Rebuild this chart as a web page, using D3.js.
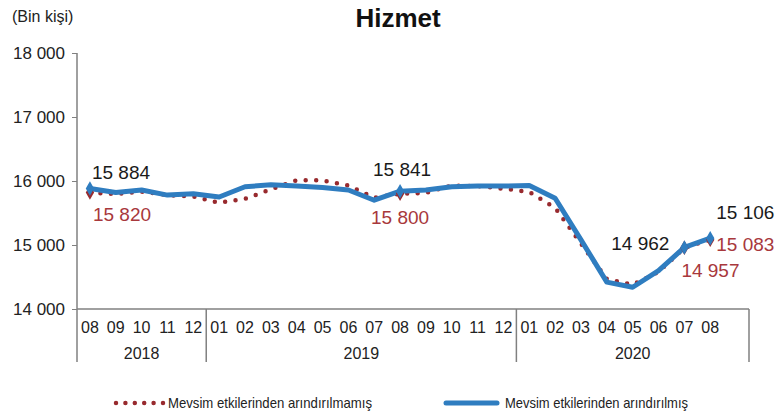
<!DOCTYPE html>
<html>
<head>
<meta charset="utf-8">
<script src="https://cdn.jsdelivr.net/npm/d3@7"></script>
<style>
  body { margin: 0; background: #fff; }
  svg { display: block; font-family: "Liberation Sans", Arial, sans-serif; }
</style>
</head>
<body>
<script>
// months shown on the x axis, Aug 2018 .. Aug 2020
let MONTHS = ['08', '09', '10', '11', '12',
  '01', '02', '03', '04', '05', '06', '07', '08', '09', '10', '11', '12',
  '01', '02', '03', '04', '05', '06', '07', '08']
// year groups: label and number of slots (2020 keeps one empty slot)
let YEARS = ['2018', '2019', '2020']
let YEAR_SLOTS = [5, 12, 9]

// seasonally adjusted (blue)
let ADJUSTED = [15884, 15820, 15860, 15780, 15800,
  15750, 15910, 15940, 15920, 15900, 15860, 15700, 15841, 15860, 15910, 15920, 15920,
  15930, 15730, 15080, 14420, 14340, 14600, 14962, 15106]
// not seasonally adjusted (dotted red)
let UNADJUSTED = [15820, 15795, 15835, 15780, 15760,
  15660, 15720, 15870, 16010, 16010, 15930, 15740, 15800, 15815, 15930, 15920, 15880,
  15830, 15580, 15020, 14470, 14380, 14580, 14957, 15083]

let Y_TICKS = [14000, 15000, 16000, 17000, 18000]
let ADJ_LABELS = [0, 12, 23, 24]
let UNADJ_LABELS = [0, 12, 23, 24]

let BLUE = '#2f7dc0'
let RED = '#982a2e'
let AXIS = '#808080'

let fmt = v => d3.format(',')(v).replace(/,/g, ' ')

function main () {
  let width = 781, height = 414
  let svg = d3.select('body').append('svg')
    .attr('width', width).attr('height', height)

  let totalSlots = d3.sum(YEAR_SLOTS)
  let x = d3.scaleLinear().domain([0, totalSlots]).range([77, 749])
  let y = d3.scaleLinear().domain([14000, 18000]).range([309, 53])
  let cx = i => x(i + 0.5)
  let axisBottom = 362

  // title and unit
  svg.append('text').attr('x', 398).attr('y', 27)
    .attr('text-anchor', 'middle').attr('font-size', 26).attr('font-weight', 'bold')
    .attr('fill', '#111').text('Hizmet')
  svg.append('text').attr('x', 12).attr('y', 22)
    .attr('font-size', 16).attr('fill', '#222').text('(Bin kişi)')

  // y axis
  let yAxis = svg.append('g').attr('transform', `translate(${x(0)},0)`)
    .call(d3.axisLeft(y).tickValues(Y_TICKS).tickFormat(fmt).tickSize(5).tickSizeOuter(0))
  yAxis.select('.domain').remove()
  yAxis.selectAll('line').attr('stroke', AXIS)
  yAxis.selectAll('text').attr('font-size', 17).attr('fill', '#222')
    .attr('font-family', '"Liberation Sans", Arial, sans-serif').attr('dx', -4)
  svg.append('line').attr('x1', x(0)).attr('x2', x(0))
    .attr('y1', y(18000)).attr('y2', axisBottom)
    .attr('stroke', AXIS).attr('stroke-width', 1.5)

  // x axis line and group dividers
  svg.append('line').attr('x1', x(0)).attr('x2', x(totalSlots))
    .attr('y1', y(14000)).attr('y2', y(14000))
    .attr('stroke', AXIS).attr('stroke-width', 1.5)
  let bounds = [0]
  YEAR_SLOTS.forEach((n, i) => bounds.push(bounds[i] + n))
  svg.selectAll('line.divider').data(bounds.slice(1)).enter().append('line')
    .attr('class', 'divider')
    .attr('x1', d => x(d)).attr('x2', d => x(d))
    .attr('y1', y(14000)).attr('y2', axisBottom)
    .attr('stroke', AXIS).attr('stroke-width', 1.5)

  svg.selectAll('text.month').data(MONTHS).enter().append('text')
    .attr('class', 'month')
    .attr('x', (d, i) => cx(i)).attr('y', 333)
    .attr('text-anchor', 'middle').attr('font-size', 16).attr('fill', '#222')
    .text(d => d)
  svg.selectAll('text.year').data(YEARS).enter().append('text')
    .attr('class', 'year')
    .attr('x', (d, i) => (x(bounds[i]) + x(bounds[i + 1])) / 2).attr('y', 359)
    .attr('text-anchor', 'middle').attr('font-size', 16).attr('fill', '#222')
    .text(d => d)

  // series
  let line = d3.line().x((d, i) => cx(i)).y(d => y(d))
  svg.append('path').datum(UNADJUSTED)
    .attr('d', line).attr('fill', 'none')
    .attr('stroke', RED).attr('stroke-width', 4.5)
    .attr('stroke-linecap', 'round').attr('stroke-dasharray', '0 10.5')
  svg.append('path').datum(ADJUSTED)
    .attr('d', line).attr('fill', 'none')
    .attr('stroke', BLUE).attr('stroke-width', 5).attr('stroke-linejoin', 'round')

  let diamond = d3.symbol().type(d3.symbolDiamond).size(60)
  svg.selectAll('path.mu').data(UNADJ_LABELS).enter().append('path')
    .attr('class', 'mu').attr('d', diamond).attr('fill', RED)
    .attr('transform', i => `translate(${cx(i)},${y(UNADJUSTED[i])})`)
  svg.selectAll('path.ma').data(ADJ_LABELS).enter().append('path')
    .attr('class', 'ma').attr('d', diamond).attr('fill', BLUE)
    .attr('transform', i => `translate(${cx(i)},${y(ADJUSTED[i])})`)

  // value labels
  let adjOffsets = [
    {anchor: 'start', dx: 2, dy: -9},
    {anchor: 'middle', dx: 2, dy: -15},
    {anchor: 'end', dx: -15, dy: 3},
    {anchor: 'start', dx: 6, dy: -19},
  ]
  let unadjOffsets = [
    {anchor: 'start', dx: 3, dy: 28},
    {anchor: 'middle', dx: 0, dy: 30},
    {anchor: 'start', dx: -3, dy: 29},
    {anchor: 'start', dx: 6, dy: 11},
  ]
  svg.selectAll('text.la').data(ADJ_LABELS).enter().append('text')
    .attr('class', 'la')
    .attr('x', (d, k) => cx(d) + adjOffsets[k].dx)
    .attr('y', (d, k) => y(ADJUSTED[d]) + adjOffsets[k].dy)
    .attr('text-anchor', (d, k) => adjOffsets[k].anchor)
    .attr('font-size', 19).attr('fill', '#1a1a1a')
    .text(d => fmt(ADJUSTED[d]))
  svg.selectAll('text.lu').data(UNADJ_LABELS).enter().append('text')
    .attr('class', 'lu')
    .attr('x', (d, k) => cx(d) + unadjOffsets[k].dx)
    .attr('y', (d, k) => y(UNADJUSTED[d]) + unadjOffsets[k].dy)
    .attr('text-anchor', (d, k) => unadjOffsets[k].anchor)
    .attr('font-size', 19).attr('fill', '#a8383c')
    .text(d => fmt(UNADJUSTED[d]))

  // legend
  let legend = svg.append('g')
  legend.append('line').attr('x1', 116).attr('x2', 163).attr('y1', 403).attr('y2', 403)
    .attr('stroke', RED).attr('stroke-width', 4.5)
    .attr('stroke-linecap', 'round').attr('stroke-dasharray', '0 9.4')
  legend.append('text').attr('x', 168).attr('y', 408)
    .attr('font-size', 15).attr('fill', '#222')
    .attr('textLength', 204).attr('lengthAdjust', 'spacingAndGlyphs')
    .text('Mevsim etkilerinden arındırılmamış')
  legend.append('line').attr('x1', 446).attr('x2', 497).attr('y1', 403).attr('y2', 403)
    .attr('stroke', BLUE).attr('stroke-width', 5).attr('stroke-linecap', 'round')
  legend.append('text').attr('x', 505).attr('y', 408)
    .attr('font-size', 15).attr('fill', '#222')
    .attr('textLength', 183).attr('lengthAdjust', 'spacingAndGlyphs')
    .text('Mevsim etkilerinden arındırılmış')
}

main()
</script>
</body>
</html>
